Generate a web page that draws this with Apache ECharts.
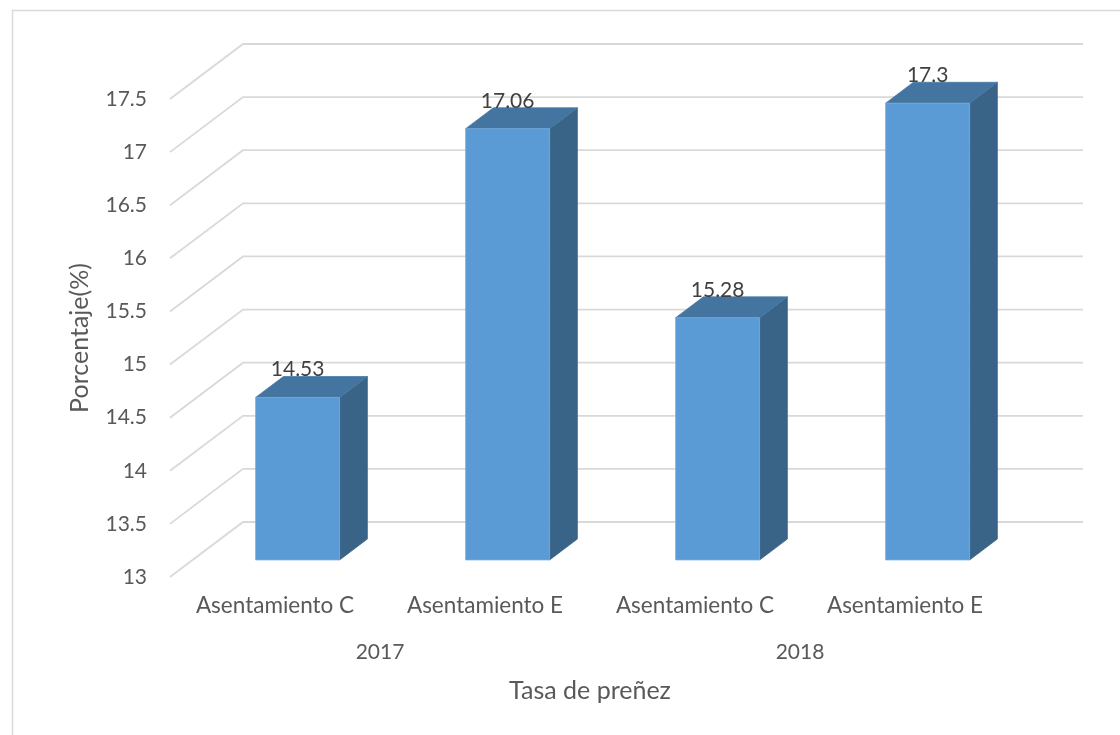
<!DOCTYPE html>
<html>
<head>
<meta charset="utf-8">
<script src="https://cdn.jsdelivr.net/npm/echarts@6/dist/echarts.min.js"></script>
<style>
html,body{margin:0;padding:0;background:#fff;}
#chart{width:1120px;height:735px;}
</style>
</head>
<body>
<div id="chart"></div>
<script>
// ---- data ----
var categories = ['Asentamiento C', 'Asentamiento E', 'Asentamiento C', 'Asentamiento E'];
var groups = ['2017', '2018'];
var values = [14.53, 17.06, 15.28, 17.3];
var valueLabels = ['14.53', '17.06', '15.28', '17.3'];
var yTicks = [13, 13.5, 14, 14.5, 15, 15.5, 16, 16.5, 17, 17.5];
var yMin = 13, yMax = 17.5, yStep = 0.5;
var xTitle = 'Tasa de preñez';
var yTitle = 'Porcentaje(%)';

// ---- style ----
var FONT = 'Lato';
var DX = 73, DY = -55;        // depth of the 3D box
var F0 = 0.31, F1 = 0.69;     // depth range of bars
var BAR_RATIO = 0.4;
var GRID_COLOR = '#d9d9d9';
var LABEL_COLOR = '#595959';

var chart = echarts.init(document.getElementById('chart'), null, {renderer: 'canvas'});

var barData = values.map(function (v, i) { return [i, v, i]; });
var tickData = yTicks.map(function (v) { return [0, v]; });

function renderGrid(params, api) {
  var cs = params.coordSys;
  var p = api.coord([0, api.value(1)]);
  var x0 = cs.x, y = p[1];
  return {
    type: 'polyline',
    shape: { points: [[x0, y], [x0 + DX, y + DY], [x0 + cs.width + DX, y + DY]] },
    style: { stroke: GRID_COLOR, lineWidth: 1.8, fill: null }
  };
}

function renderBar(params, api) {
  var idx = api.value(0);
  var v = api.value(1);
  var base = api.coord([idx, yMin]);
  var top = api.coord([idx, v]);
  var bw = api.size([1, 0])[0] * BAR_RATIO;
  var ox = F0 * DX, oy = F0 * DY;
  var dx = (F1 - F0) * DX, dy = (F1 - F0) * DY;
  var xl = base[0] - bw / 2 + ox, xr = base[0] + bw / 2 + ox;
  var yt = top[1] + oy, yb = base[1] + oy;
  var lbl = valueLabels[api.value(2)];
  return {
    type: 'group',
    children: [
      { type: 'polygon', shape: { points: [[xr, yt], [xr + dx, yt + dy], [xr + dx, yb + dy], [xr, yb]] },
        style: { fill: '#396387', stroke: '#3d6a90', lineWidth: 0.8 } },
      { type: 'polygon', shape: { points: [[xl, yt], [xr, yt], [xr + dx, yt + dy], [xl + dx, yt + dy]] },
        style: { fill: '#4474a0', stroke: '#4a7aa6', lineWidth: 0.8 } },
      { type: 'rect', shape: { x: xl, y: yt, width: xr - xl, height: yb - yt },
        style: { fill: '#5b9bd5', stroke: '#75abdc', lineWidth: 0.8 } },
      { type: 'text', x: (xl + xr) / 2, y: yt + dy - 7,
        style: { text: lbl, fill: '#404040', font: '21px ' + FONT, align: 'center', verticalAlign: 'middle' } }
    ]
  };
}

var option = {
  backgroundColor: '#ffffff',
  animation: false,
  textStyle: { fontFamily: FONT },
  graphic: [{
    type: 'rect', left: 10, top: 8, silent: true,
    shape: { width: 1200, height: 800 },
    style: { fill: null, stroke: GRID_COLOR, lineWidth: 1.5 }
  }],
  grid: { left: 170, top: 99, width: 840, height: 478, containLabel: false },
  xAxis: [{
    type: 'category', data: categories, position: 'bottom',
    axisLine: { show: false }, axisTick: { show: false }, splitLine: { show: false },
    axisLabel: { color: LABEL_COLOR, fontSize: 22.5, fontFamily: FONT, margin: 17, interval: 0 }
  }, {
    type: 'category', data: groups, position: 'bottom',
    axisLine: { show: false }, axisTick: { show: false }, splitLine: { show: false },
    axisLabel: { color: LABEL_COLOR, fontSize: 21, fontFamily: FONT, margin: 65, interval: 0 },
    name: xTitle, nameLocation: 'middle', nameGap: 101,
    nameTextStyle: { color: LABEL_COLOR, fontSize: 25, fontFamily: FONT }
  }],
  yAxis: {
    type: 'value', min: yMin, max: yMax, interval: yStep,
    axisLine: { show: false }, axisTick: { show: false }, splitLine: { show: false },
    axisLabel: { color: LABEL_COLOR, fontSize: 21, fontFamily: FONT, margin: 23,
      formatter: function (v) { return String(v); } },
    name: yTitle, nameLocation: 'middle', nameGap: 78, nameRotate: 90,
    nameTextStyle: { color: LABEL_COLOR, fontSize: 25, fontFamily: FONT }
  },
  series: [{
    type: 'custom', name: 'grid', xAxisIndex: 0, yAxisIndex: 0, z: 1, silent: true,
    renderItem: renderGrid, data: tickData, encode: { x: 0, y: 1 }
  }, {
    type: 'custom', name: 'bars', xAxisIndex: 0, yAxisIndex: 0, z: 2,
    renderItem: renderBar, data: barData, encode: { x: 0, y: 1 }
  }]
};
chart.setOption(option);
</script>
</body>
</html>
